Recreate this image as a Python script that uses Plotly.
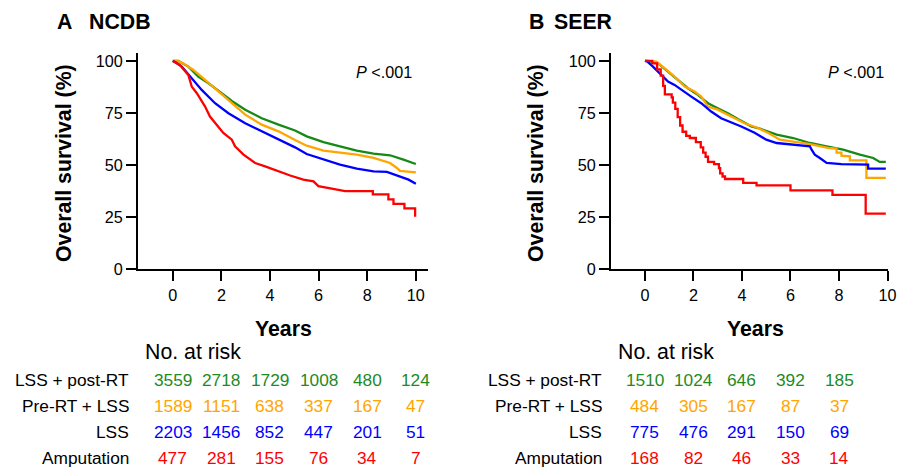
import plotly.graph_objects as go

# reference canvas (coordinates below are measured on it)
REF_W, REF_H = 906, 471
# figure size chosen so that the captured page fills the reference canvas
W, H = 915, 480
FS = 1.015  # font scale compensating the capture resize
FONT = "Liberation Sans, Arial, sans-serif"

# ---------------- data: NCDB (panel A) ----------------
ncdb_green_t = [0, 0.23, 0.64, 1.05, 1.47, 1.88, 2.43, 2.98, 3.66, 4.35, 5.03, 5.51, 6.2, 6.88, 7.57, 8.26, 8.94, 9.49, 10.0]
ncdb_green_s = [100, 100, 97.3, 92.5, 89.3, 85.8, 80.8, 76.6, 72.5, 69.4, 66.6, 63.8, 61.0, 59.0, 56.9, 55.5, 54.7, 52.6, 50.5]

ncdb_orange_t = [0, 0.2, 0.44, 0.85, 1.33, 1.88, 2.43, 2.98, 3.66, 4.35, 5.03, 5.51, 6.2, 6.88, 7.57, 8.26, 8.94, 9.22, 9.35, 10.0]
ncdb_orange_s = [100, 100, 98.8, 95.7, 90.9, 85.3, 79.7, 74.2, 69.4, 66.2, 62.0, 59.3, 56.9, 55.8, 55.0, 53.4, 51.0, 48.6, 47.2, 46.5]

ncdb_blue_t = [0, 0.1, 0.37, 0.78, 1.19, 1.74, 2.29, 2.98, 3.66, 4.35, 5.03, 5.51, 6.2, 6.88, 7.57, 8.26, 8.81, 9.35, 9.7, 10.0]
ncdb_blue_s = [100, 99.5, 97.3, 91.7, 86.1, 79.7, 74.9, 70.1, 66.2, 62.2, 58.5, 55.3, 52.6, 50.2, 48.3, 47.0, 46.7, 44.6, 43.0, 41.0]

ncdb_red_t = [0, 0.3, 0.64, 0.78, 0.99, 1.33, 1.53, 1.81, 2.08, 2.43, 2.56, 2.91, 3.39, 3.8, 4.35, 4.83,
              5.37, 5.79, 5.99, 6.61, 7.09, 8.23, 8.23, 8.87, 8.87, 9.08, 9.08, 9.53, 9.53, 9.97, 9.97]
ncdb_red_s = [100, 98, 93.3, 87.7, 84.5, 78.1, 73.3, 69.4, 65.4, 62.2, 59, 55, 51, 49.4, 47, 45,
              43, 42.2, 39.9, 38.7, 37.5, 37.5, 35.9, 35.9, 33.5, 33.5, 31.4, 31.4, 29.2, 29.2, 25.2]

# ---------------- data: SEER (panel B) ----------------
seer_green_t = [0, 0.12, 0.54, 0.95, 1.36, 1.77, 2.18, 2.6, 3.0, 3.42, 3.83, 4.38, 4.74, 5.43, 6.11, 6.8, 7.49, 8.17, 8.86, 9.41, 9.68, 9.93]
seer_green_s = [100, 100, 98.8, 94.9, 90.9, 86.9, 83.7, 79.7, 77.3, 74.9, 72.1, 68.6, 67.5, 64.6, 63.0, 60.6, 59.0, 57.4, 55.0, 53.4, 51.5, 51.5]

seer_orange_t = [0, 0.2, 0.47, 0.81, 1.22, 1.64, 2.05, 2.32, 2.6, 3.0, 3.56, 4.11, 4.66, 5.07, 5.56, 6.11, 6.8, 7.55,
                 7.9, 7.9, 8.1, 8.1, 8.38, 8.45, 8.45, 9.13, 9.13, 9.93]
seer_orange_s = [100, 100, 99.7, 96.5, 92.5, 87.7, 85.3, 82.9, 78.1, 76.6, 73.3, 70.1, 67.8, 65.5, 62.2, 61.4, 60.1, 58.3,
                 57.9, 56.0, 56.0, 54.5, 54.2, 54.2, 52.3, 52.3, 43.8, 43.8]

seer_blue_t = [0, 0.1, 0.33, 0.67, 0.95, 1.22, 1.5, 1.91, 2.32, 2.73, 3.14, 3.56, 3.97, 4.52, 5.0, 5.43, 6.0, 6.8,
               6.87, 7.0, 7.21, 7.49, 8.1, 9.2, 9.2, 9.93]
seer_blue_s = [100, 99.7, 97.3, 93.3, 90.1, 88.5, 86.1, 82.9, 79.7, 75.7, 72.5, 70.5, 68.5, 65.5, 62.2, 60.6, 59.8, 59.0,
               57.4, 55.0, 53.4, 51.0, 50.5, 50.2, 48.3, 48.3]

seer_red_t = [0, 0.3, 0.5, 0.65, 0.75, 0.82, 1.1, 1.15, 1.25, 1.35, 1.45, 1.55, 1.7, 1.85, 2.1, 2.3, 2.4, 2.5, 2.6,
              2.85, 3.05, 3.1, 3.2, 3.3, 4.05, 4.6, 6.0, 7.73, 9.1, 9.93]
seer_red_s = [100, 98.8, 96, 93, 88, 84, 82.5, 80, 77, 73, 69, 66, 64, 63, 61, 58.5, 56, 54, 51.5,
              50.5, 48.5, 46, 44.5, 43.3, 41.4, 40.2, 37.8, 35.7, 26.7, 26.7]

# ---------------- number at risk ----------------
group_labels = ["LSS + post-RT", "Pre-RT + LSS", "LSS", "Amputation"]
ncdb_risk_years = [0, 2, 4, 6, 8, 10]
ncdb_risk = [
    [3559, 2718, 1729, 1008, 480, 124],
    [1589, 1151, 638, 337, 167, 47],
    [2203, 1456, 852, 447, 201, 51],
    [477, 281, 155, 76, 34, 7],
]
seer_risk_years = [0, 2, 4, 6, 8]
seer_risk = [
    [1510, 1024, 646, 392, 185],
    [484, 305, 167, 87, 37],
    [775, 476, 291, 150, 69],
    [168, 82, 46, 33, 14],
]

COLORS = ["#168a16", "#ffa500", "#0000ff", "#ff0000"]
TEXT_COLORS = ["#1f8a1f", "#ffa500", "#0000ff", "#ff0000"]


def px(x):
    return x / REF_W


def py(y):
    return 1 - y / REF_H


def fs(s):
    return round(s * FS, 1)


fig = go.Figure()

ncdb = [(ncdb_green_t, ncdb_green_s), (ncdb_orange_t, ncdb_orange_s), (ncdb_blue_t, ncdb_blue_s), (ncdb_red_t, ncdb_red_s)]
seer = [(seer_green_t, seer_green_s), (seer_orange_t, seer_orange_s), (seer_blue_t, seer_blue_s), (seer_red_t, seer_red_s)]

for i, (t, s) in enumerate(ncdb):
    fig.add_trace(go.Scatter(x=t, y=s, mode="lines", line=dict(color=COLORS[i], width=2.3),
                             xaxis="x", yaxis="y", showlegend=False, hoverinfo="skip"))
for i, (t, s) in enumerate(seer):
    shape = "hv" if i == 3 else "linear"
    fig.add_trace(go.Scatter(x=t, y=s, mode="lines", line=dict(color=COLORS[i], width=2.3, shape=shape),
                             xaxis="x2", yaxis="y2", showlegend=False, hoverinfo="skip"))

axis_common = dict(showline=True, linecolor="black", linewidth=2, ticks="outside", ticklen=10,
                   tickwidth=2, tickcolor="black", showgrid=False, zeroline=False,
                   tickfont=dict(family=FONT, size=fs(16), color="black"), fixedrange=True)

y_top = 51.7
y_bot = 268.3
fig.update_layout(
    width=W, height=H, autosize=False,
    margin=dict(l=0, r=0, t=0, b=0, pad=0),
    paper_bgcolor="white", plot_bgcolor="white",
    xaxis=dict(domain=[px(138), px(428)], range=[-1.43, 10.5], tickvals=[0, 2, 4, 6, 8, 10],
               anchor="y", **axis_common),
    yaxis=dict(domain=[py(y_bot), py(y_top)], range=[0, 103.6], tickvals=[0, 25, 50, 75, 100],
               anchor="x", **axis_common),
    xaxis2=dict(domain=[px(611), px(888)], range=[-1.40, 10.02], tickvals=[0, 2, 4, 6, 8, 10],
                anchor="y2", **axis_common),
    yaxis2=dict(domain=[py(y_bot), py(y_top)], range=[0, 103.6], tickvals=[0, 25, 50, 75, 100],
                anchor="x2", **axis_common),
)

ann = []


def text(x, y, s, size, xanchor="center", color="black", angle=0, xref="paper"):
    ann.append(dict(x=x, y=y, xref=xref, yref="paper", text=s, showarrow=False,
                    xanchor=xanchor, yanchor="middle", textangle=angle,
                    font=dict(family=FONT, size=fs(size), color=color)))


# panel titles
text(px(55), py(20), "<b>A</b>", 21, xanchor="left")
text(px(87), py(20), "<b>NCDB</b>", 21, xanchor="left")
text(px(527), py(20), "<b>B</b>", 21, xanchor="left")
text(px(552), py(20), "<b>SEER</b>", 21, xanchor="left")

# axis titles
text(px(64), py(161.7), "<b>Overall survival (%)</b>", 21, angle=-90)
text(px(536), py(161.7), "<b>Overall survival (%)</b>", 21, angle=-90)
text(px(283), py(328), "<b>Years</b>", 21)
text(px(755), py(328), "<b>Years</b>", 21)

# P values
text(px(413.5), py(70), "<i>P</i> <.001", 16, xanchor="right")
text(px(885.5), py(70), "<i>P</i> <.001", 16, xanchor="right")

# number at risk tables
text(px(143), py(351.5), "No. at risk", 21, xanchor="left")
text(px(616), py(351.5), "No. at risk", 21, xanchor="left")
row_y = [379.5, 405.5, 431.5, 458]
for r, lab in enumerate(group_labels):
    text(px(131), py(row_y[r]), lab, 17, xanchor="right")
    text(px(604), py(row_y[r]), lab, 17, xanchor="right")
    for c, yr in enumerate(ncdb_risk_years):
        text(yr, py(row_y[r]), str(ncdb_risk[r][c]), 17, color=TEXT_COLORS[r], xref="x")
    for c, yr in enumerate(seer_risk_years):
        text(yr, py(row_y[r]), str(seer_risk[r][c]), 17, color=TEXT_COLORS[r], xref="x2")

fig.update_layout(annotations=ann)
fig.write_html("out.html", config={"responsive": False, "displayModeBar": False})
